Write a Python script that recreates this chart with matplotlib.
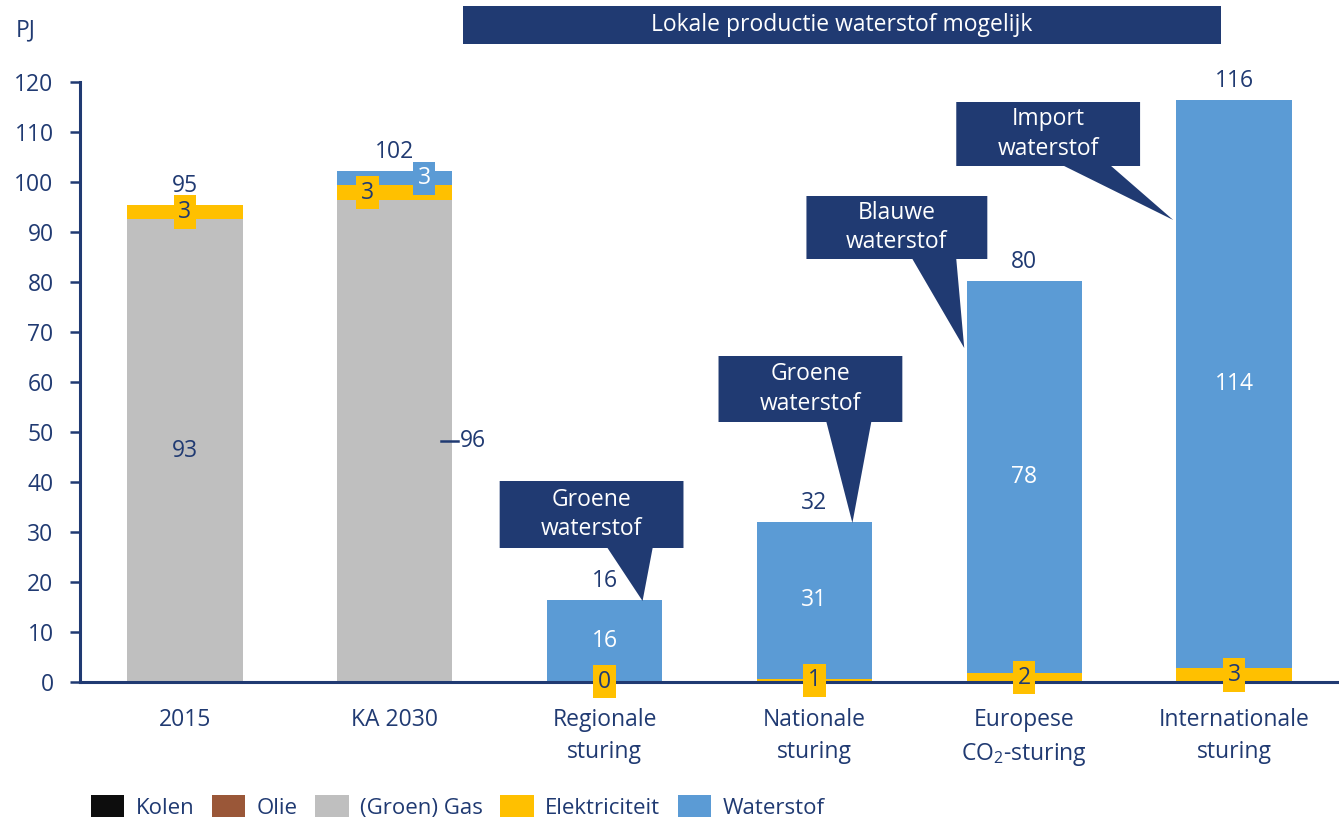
import numpy as np
import matplotlib.pyplot as plt
from matplotlib.patches import Polygon, Rectangle

plt.rcParams['font.family'] = ['Open Sans', 'DejaVu Sans']
plt.rcParams['mathtext.fontset'] = 'custom'
plt.rcParams['mathtext.rm'] = 'Open Sans'

# Data (PJ)
categories = ['2015', 'KA 2030', 'Regionale\nsturing', 'Nationale\nsturing',
              'Europese\nCO$_\\mathrm{2}$-sturing', 'Internationale\nsturing']
kolen = [0, 0, 0, 0, 0, 0]
olie = [0, 0, 0, 0, 0, 0]
gas = [92.6, 96.4, 0, 0, 0, 0]
elektriciteit = [2.8, 2.9, 0.2, 0.7, 1.8, 2.8]
waterstof = [0, 2.9, 16.2, 31.4, 78.4, 113.6]

# callouts: text, box (x0, x1, y0, y1), wedge base (b0, b1), tip
callouts = [
    ('Groene\nwaterstof', (1.50, 2.376, 26.8, 40.2), (2.014, 2.229), (2.181, 16.2)),
    ('Groene\nwaterstof', (2.543, 3.419, 52.0, 65.2), (3.057, 3.271), (3.181, 31.8)),
    ('Blauwe\nwaterstof', (2.962, 3.824, 84.6, 97.2), (3.467, 3.676), (3.714, 66.8)),
    ('Import\nwaterstof', (3.676, 4.552, 103.2, 116.0), (4.190, 4.414), (4.710, 92.4)),
]

navy = '#203A72'
c_kolen = '#0D0D0D'
c_olie = '#9A5738'
c_gas = '#BFBFBF'
c_elek = '#FFC000'
c_h2 = '#5B9BD5'
fs = 16.5

fig = plt.figure(figsize=(13.39, 8.21), dpi=100)
ax = fig.add_axes([80/1339, 1-682/821, 1-80/1339, 600/821])

x = np.arange(len(categories))
w = 0.55
gas = np.array(gas)
elek = np.array(elektriciteit)
h2 = np.array(waterstof)

ax.bar(x, kolen, w, color=c_kolen, label='Kolen')
ax.bar(x, olie, w, color=c_olie, label='Olie')
ax.bar(x, gas, w, color=c_gas, label='(Groen) Gas')
ax.bar(x, elek, w, bottom=gas, color=c_elek, label='Elektriciteit')
ax.bar(x, h2, w, bottom=gas+elek, color=c_h2, label='Waterstof')

total = gas + elek + h2

# totals
for i in x:
    ax.annotate(f'{total[i]:.0f}', (i, total[i]), xytext=(0, 5),
                textcoords='offset points', ha='center', va='bottom',
                fontsize=fs, color=navy)

# gas labels
ax.text(0, gas[0]/2, f'{gas[0]:.0f}', ha='center', va='center', fontsize=fs, color=navy)
ax.plot([1 + 0.219, 1 + 0.30], [gas[1]/2, gas[1]/2], color=navy, lw=1.8)
ax.text(1.31, gas[1]/2, f'{gas[1]:.0f}', ha='left', va='center', fontsize=fs, color=navy)

# electricity labels
elek_dx = [0, -0.13, 0, 0, 0, 0]
for i in x:
    ax.text(i + elek_dx[i], gas[i] + elek[i]/2, f'{elek[i]:.0f}', ha='center', va='center',
            fontsize=fs, color=navy, zorder=5, clip_on=False,
            bbox=dict(boxstyle='square,pad=0.2', fc=c_elek, ec='none'))

# hydrogen labels
ax.text(1.14, gas[1] + elek[1] + h2[1]/2, f'{h2[1]:.0f}', ha='center', va='center',
        fontsize=fs, color='white', zorder=5,
        bbox=dict(boxstyle='square,pad=0.2', fc=c_h2, ec='none'))
for i in x[2:]:
    ax.text(i, elek[i] + h2[i]/2, f'{h2[i]:.0f}', ha='center', va='center',
            fontsize=fs, color='white')

# callouts
for txt, (x0, x1, y0, y1), (b0, b1), tip in callouts:
    verts = [(x0, y0), (b0, y0), tip, (b1, y0), (x1, y0), (x1, y1), (x0, y1)]
    ax.add_patch(Polygon(verts, closed=True, fc=navy, ec='none', zorder=6, clip_on=False))
    ax.text((x0 + x1)/2, (y0 + y1)/2, txt, ha='center', va='center', fontsize=fs,
            color='white', zorder=7, linespacing=1.28)

ax.set_xlim(-0.5, 5.5)
ax.set_ylim(0, 120)
ax.set_yticks(np.arange(0, 121, 10))
ax.set_xticks(x)
ax.set_xticklabels(categories, fontsize=fs, color=navy, linespacing=1.45)
ax.tick_params(axis='x', length=0, pad=19)
ax.tick_params(axis='y', length=7, width=1.8, color=navy, labelcolor=navy,
               labelsize=fs, pad=12)
for s in ['top', 'right']:
    ax.spines[s].set_visible(False)
for s in ['left', 'bottom']:
    ax.spines[s].set_color(navy)
    ax.spines[s].set_linewidth(2.2)

fig.text(16/1339, 1 - 30/821, 'PJ', fontsize=fs, color=navy, va='center')

fig.add_artist(Rectangle((463/1339, 1 - 44/821), (1221 - 463)/1339, 38/821,
                         transform=fig.transFigure, fc=navy, ec='none'))
fig.text((463 + 1221)/2/1339, 1 - 25/821, 'Lokale productie waterstof mogelijk',
         fontsize=fs, color='white', ha='center', va='center')

fig.legend(loc='center left', bbox_to_anchor=(80/1339, 1 - 807/821), ncol=5,
           frameon=False, fontsize=16, labelcolor=navy, handlelength=1.5,
           handleheight=1.1, handletextpad=0.5, columnspacing=0.8, borderpad=0)

fig.savefig('out.png', dpi=100)
